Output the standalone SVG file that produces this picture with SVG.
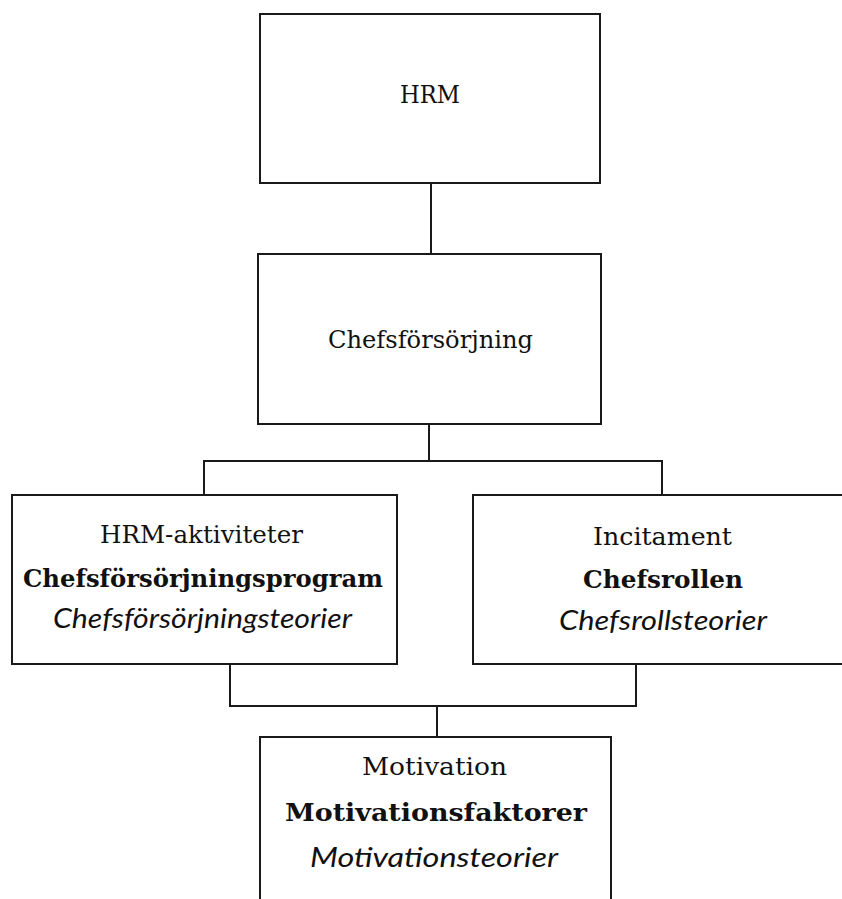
<svg xmlns="http://www.w3.org/2000/svg" width="842" height="899" viewBox="0 0 842 899">
<style>
.box{fill:#fff;stroke:#1a1a1a;stroke-width:2}
.conn{fill:none;stroke:#1a1a1a;stroke-width:2}
.r{font-family:"DejaVu Serif",serif;font-size:24px;fill:#111;text-anchor:middle}
.b{font-family:"DejaVu Serif",serif;font-size:24px;font-weight:bold;fill:#111;text-anchor:middle}
.i{font-family:Lato,"Liberation Sans",sans-serif;font-size:27px;font-style:italic;fill:#111;text-anchor:middle}
</style>
<rect width="842" height="899" fill="#fff"/>
<g id="connectors">
<line class="conn" x1="431" y1="183" x2="431" y2="254"/>
<line class="conn" x1="429" y1="424" x2="429" y2="461"/>
<polyline class="conn" points="204,495 204,461 662,461 662,495"/>
<polyline class="conn" points="230,664 230,706 636,706 636,664"/>
<line class="conn" x1="437" y1="706" x2="437" y2="737"/>
</g>
<g id="hrm">
<rect class="box" x="260" y="14" width="340" height="169"/>
<text class="r" x="430" y="103" textLength="60" lengthAdjust="spacingAndGlyphs">HRM</text>
</g>
<g id="chefsforsorjning">
<rect class="box" x="258" y="254" width="343" height="170"/>
<text class="r" x="430.5" y="348" textLength="205" lengthAdjust="spacingAndGlyphs">Chefsförsörjning</text>
</g>
<g id="hrm-aktiviteter">
<rect class="box" x="12" y="495" width="385" height="169"/>
<text class="r" x="201.5" y="543" textLength="203" lengthAdjust="spacingAndGlyphs">HRM-aktiviteter</text>
<text class="b" x="203" y="587" textLength="360" lengthAdjust="spacingAndGlyphs">Chefsförsörjningsprogram</text>
<text class="i" x="202.5" y="628" textLength="299" lengthAdjust="spacingAndGlyphs">Chefsförsörjningsteorier</text>
</g>
<g id="incitament">
<rect class="box" x="473" y="495" width="380" height="169"/>
<text class="r" x="662.5" y="545" textLength="139" lengthAdjust="spacingAndGlyphs">Incitament</text>
<text class="b" x="663" y="588" textLength="160" lengthAdjust="spacingAndGlyphs">Chefsrollen</text>
<text class="i" x="663" y="630" textLength="208" lengthAdjust="spacingAndGlyphs">Chefsrollsteorier</text>
</g>
<g id="motivation">
<rect class="box" x="260" y="737" width="351" height="170"/>
<text class="r" x="434.5" y="775" textLength="145" lengthAdjust="spacingAndGlyphs">Motivation</text>
<text class="b" x="436" y="821" textLength="302" lengthAdjust="spacingAndGlyphs">Motivationsfaktorer</text>
<text class="i" x="434" y="867" textLength="248" lengthAdjust="spacingAndGlyphs">Motivationsteorier</text>
</g>
</svg>
